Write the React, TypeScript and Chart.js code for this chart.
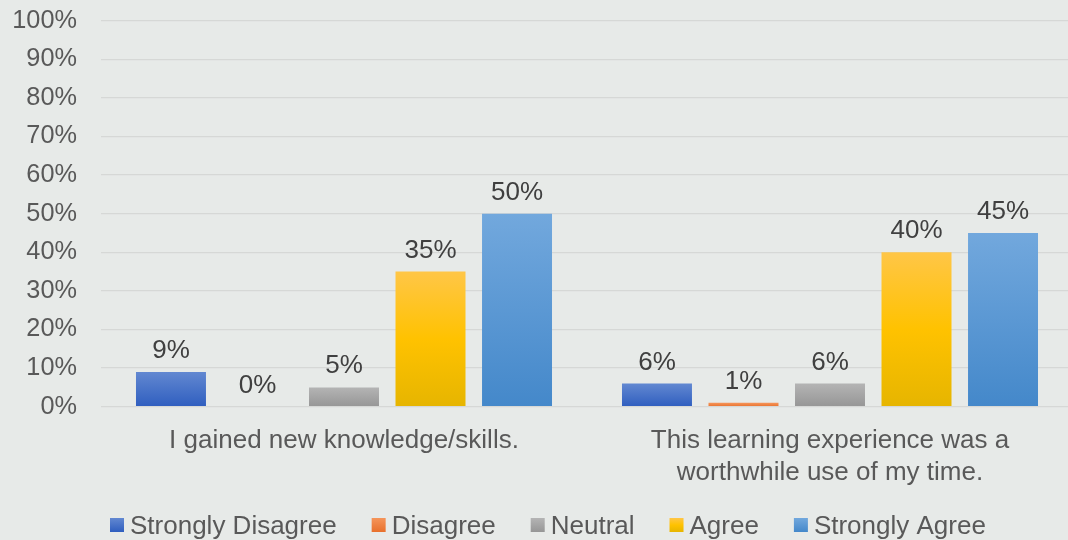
import React, { useEffect, useRef } from "react";
import { Chart, registerables } from "chart.js";

Chart.register(...registerables);

const categories: string[][] = [
  ["I gained new knowledge/skills."],
  ["This learning experience was a", "worthwhile use of my time."],
];
const seriesNames = ["Strongly Disagree", "Disagree", "Neutral", "Agree", "Strongly Agree"];
const stronglyDisagree = [9, 6];
const disagree = [0, 1];
const neutral = [5, 6];
const agree = [35, 40];
const stronglyAgree = [50, 45];
const yMin = 0;
const yMax = 100;
const yStep = 10;

const gradientStops: string[][] = [
  ["#6288D1", "#2F5EBF"],
  ["#F5955A", "#E8702C"],
  ["#B4B4B4", "#969696"],
  ["#FFC647", "#FFC200", "#E6B500"],
  ["#72A8DD", "#4488CA"],
];

const FONT = '"Liberation Sans", Arial, sans-serif';
const BG = "#E7EAE8";
const TICK_SIZE = 25.3;

function makeGradient(c: CanvasRenderingContext2D, top: number, bottom: number, stops: string[]) {
  const g = c.createLinearGradient(0, top, 0, bottom);
  stops.forEach((s, i) => g.addColorStop(i / (stops.length - 1), s));
  return g;
}

const dataLabelPlugin = {
  id: "dataLabels",
  afterDatasetsDraw(chart: any) {
    const c = chart.ctx as CanvasRenderingContext2D;
    c.save();
    c.font = `26px ${FONT}`;
    c.fillStyle = "#404040";
    c.textAlign = "center";
    c.textBaseline = "alphabetic";
    chart.data.datasets.forEach((ds: any, di: number) => {
      const meta = chart.getDatasetMeta(di);
      meta.data.forEach((el: any, i: number) => {
        c.fillText(`${ds.data[i]}%`, el.x, el.y - 14);
      });
    });
    c.restore();
  },
};

const legendPlugin = {
  id: "customLegend",
  afterDraw(chart: any) {
    const c = chart.ctx as CanvasRenderingContext2D;
    c.save();
    c.font = `26px ${FONT}`;
    c.textBaseline = "alphabetic";
    c.textAlign = "left";
    let x = 110;
    const boxTop = 518;
    const boxSize = 14;
    const baseline = 534;
    chart.data.datasets.forEach((ds: any, di: number) => {
      c.fillStyle = makeGradient(c, boxTop, boxTop + boxSize, gradientStops[di]);
      c.fillRect(x, boxTop, boxSize, boxSize);
      c.fillStyle = "#595959";
      const tx = x + boxSize + 6;
      c.fillText(ds.label, tx, baseline);
      x = tx + c.measureText(ds.label).width + 35;
    });
    c.restore();
  },
};

export default function App() {
  const canvasRef = useRef<HTMLCanvasElement | null>(null);

  useEffect(() => {
    if (!canvasRef.current) return;
    const series = [stronglyDisagree, disagree, neutral, agree, stronglyAgree];
    const chart = new Chart(canvasRef.current, {
      type: "bar",
      data: {
        labels: categories as any,
        datasets: series.map((d, di) => ({
          label: seriesNames[di],
          data: d,
          backgroundColor: (ctx: any) => {
            const stops = gradientStops[di];
            const ch = ctx.chart;
            if (!ch.chartArea || ctx.type !== "data") return stops[0];
            const ys = ch.scales.y;
            const top = ys.getPixelForValue(ctx.raw);
            const bottom = ys.getPixelForValue(0);
            if (!(bottom - top > 0.5)) return stops[0];
            return makeGradient(ch.ctx, top, bottom, stops);
          },
          borderWidth: 0,
          categoryPercentage: 0.89,
          barPercentage: 0.809,
        })),
      },
      options: {
        responsive: false,
        animation: false,
        devicePixelRatio: 1,
        layout: { padding: { top: 20.7, bottom: 53.3, left: 0, right: 0 } },
        plugins: {
          legend: { display: false },
          tooltip: { enabled: false },
        },
        scales: {
          x: {
            grid: { display: false, drawTicks: false },
            border: { display: false },
            ticks: {
              color: "#595959",
              font: { family: FONT, size: 26, lineHeight: 32 / 26 },
              padding: 18,
              maxRotation: 0,
              autoSkip: false,
            },
            afterFit: (s: any) => {
              s.height = 80;
              s.paddingLeft = 0;
              s.paddingRight = 0;
            },
          },
          y: {
            min: yMin,
            max: yMax,
            grid: { color: "#D6D8D6", lineWidth: 1.3, drawTicks: false },
            border: { display: false },
            ticks: {
              stepSize: yStep,
              color: "#595959",
              font: { family: FONT, size: TICK_SIZE },
              padding: 24,
              callback: (v: any) => `${v}%`,
            },
            afterFit: (s: any) => {
              s.width = 101;
              s.paddingTop = 0;
              s.paddingBottom = 0;
            },
          },
        },
      },
      plugins: [dataLabelPlugin, legendPlugin],
    });
    return () => chart.destroy();
  }, []);

  return (
    <div
      style={{
        position: "fixed",
        left: 0,
        top: 0,
        width: 1068,
        height: 540,
        overflow: "hidden",
        background: BG,
      }}
    >
      <canvas ref={canvasRef} width={1073} height={540} style={{ display: "block", width: 1073, height: 540 }} />
    </div>
  );
}
